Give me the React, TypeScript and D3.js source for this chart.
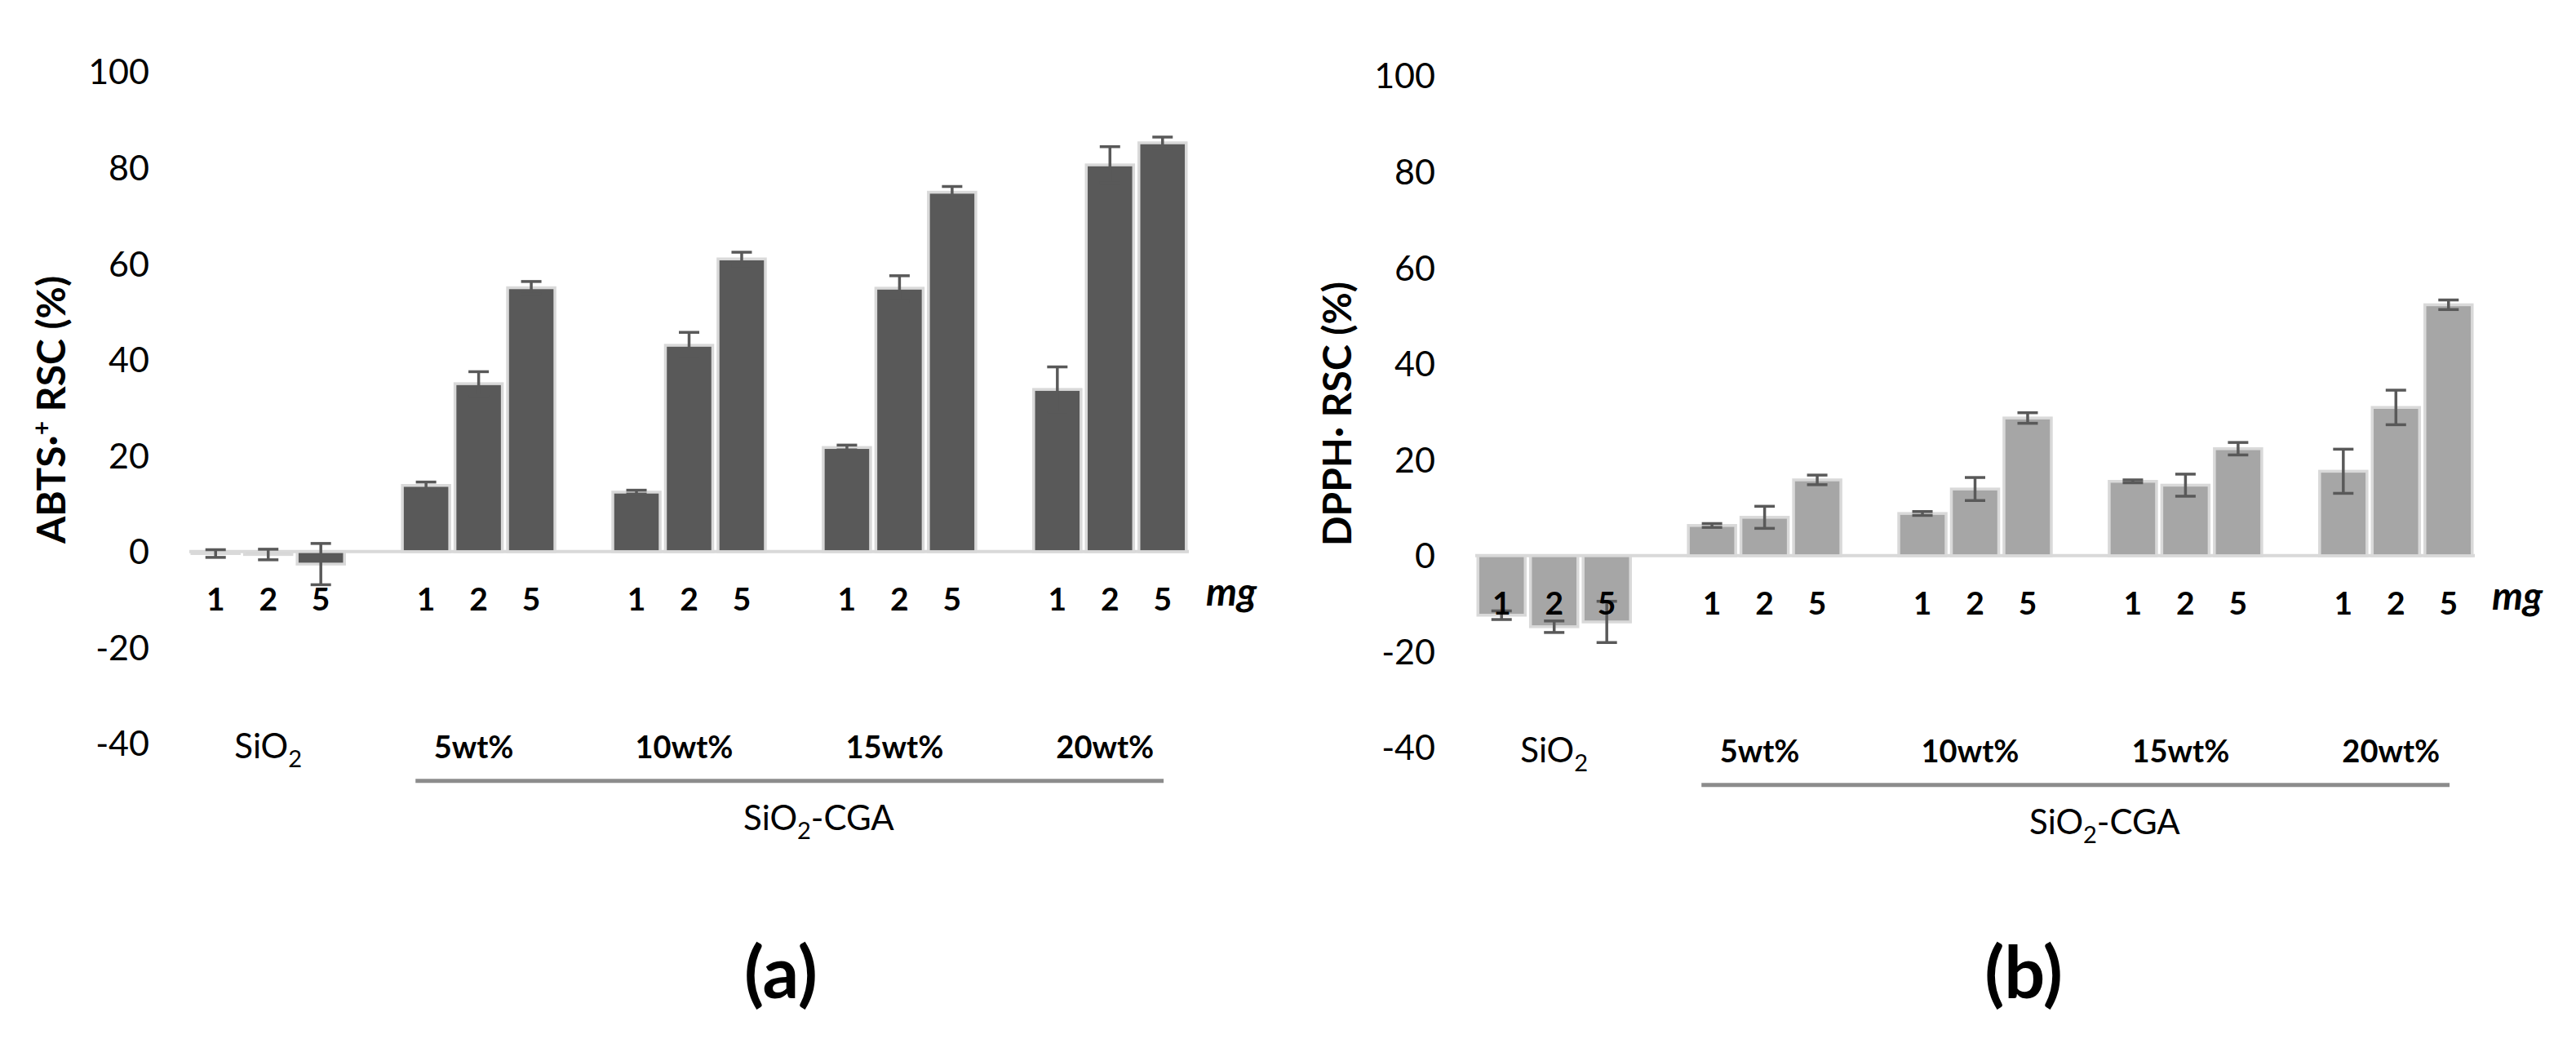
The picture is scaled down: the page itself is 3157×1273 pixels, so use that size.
import React, { useEffect, useRef } from 'react';
import * as d3 from 'd3';

const groups = ['SiO2', '5wt%', '10wt%', '15wt%', '20wt%'];
const doses = ['1', '2', '5'];
const yTicks = [-40, -20, 0, 20, 40, 60, 80, 100];

// ABTS radical scavenging, per group, per dose (mg)
const abtsMean = [
  [-0.4, -0.6, -2.6],
  [13.8, 35.0, 55.0],
  [12.4, 43.0, 61.0],
  [21.7, 54.9, 74.9],
  [33.8, 80.6, 85.2],
];
const abtsErr = [
  [0.8, 1.1, 4.3],
  [0.7, 2.5, 1.3],
  [0.4, 2.7, 1.4],
  [0.5, 2.6, 1.2],
  [4.7, 3.8, 1.2],
];

// DPPH radical scavenging
const dpphMean = [
  [-12.4, -14.8, -13.8],
  [6.3, 8.0, 15.8],
  [8.8, 13.9, 28.7],
  [15.5, 14.7, 22.3],
  [17.6, 30.9, 52.3],
];
const dpphErr = [
  [0.9, 1.2, 4.3],
  [0.4, 2.3, 1.0],
  [0.4, 2.4, 1.1],
  [0.3, 2.3, 1.3],
  [4.6, 3.6, 1.0],
];

const FONT = 'Lato, "Open Sans", sans-serif';

interface PanelOpts {
  dx: number;
  dy: number;
  means: number[][];
  errs: number[][];
  fill: string;
  title: 'abts' | 'dpph';
  letter: string;
  letterX: number;
}

function drawPanel(svg: d3.Selection<SVGSVGElement, unknown, null, undefined>, o: PanelOpts) {
  const g = svg.append('g').attr('transform', `translate(${o.dx},${o.dy})`);

  const y = d3.scaleLinear().domain([-40, 100]).range([911, 88]);
  const x0 = d3.scaleBand<string>().domain(groups).range([232, 1457]).paddingInner(0.25).paddingOuter(0);
  const x1 = d3.scaleBand<string>().domain(doses).range([0, x0.bandwidth()]).paddingInner(0.1).paddingOuter(0.05);
  const zero = y(0);

  // y tick labels (no axis line in the original)
  g.selectAll('text.ytick')
    .data(yTicks)
    .enter()
    .append('text')
    .attr('class', 'ytick')
    .attr('x', 183)
    .attr('y', d => y(d))
    .attr('dy', '0.36em')
    .attr('text-anchor', 'end')
    .attr('font-family', FONT)
    .attr('font-size', 43)
    .attr('fill', '#000')
    .text(d => d);

  // baseline at zero
  g.append('line')
    .attr('x1', 232).attr('x2', 1457)
    .attr('y1', zero).attr('y2', zero)
    .attr('stroke', '#d9d9d9')
    .attr('stroke-width', 4);

  const rows = groups.flatMap((grp, gi) =>
    doses.map((dose, di) => ({ grp, dose, v: o.means[gi][di], e: o.errs[gi][di] }))
  );
  const cx = (d: { grp: string; dose: string }) => x0(d.grp)! + x1(d.dose)! + x1.bandwidth() / 2;

  g.selectAll('rect.bar')
    .data(rows)
    .enter()
    .append('rect')
    .attr('class', 'bar')
    .attr('x', d => x0(d.grp)! + x1(d.dose)!)
    .attr('width', x1.bandwidth())
    .attr('y', d => Math.min(y(d.v), zero))
    .attr('height', d => Math.abs(y(d.v) - zero))
    .attr('fill', o.fill)
    .attr('stroke', '#d9d9d9')
    .attr('stroke-width', 3.5);

  // error bars
  const eb = g.selectAll('g.err').data(rows).enter().append('g').attr('class', 'err')
    .attr('stroke', '#595959').attr('stroke-width', 3.5);
  eb.append('line')
    .attr('x1', cx).attr('x2', cx)
    .attr('y1', d => y(d.v + d.e)).attr('y2', d => y(d.v - d.e));
  eb.append('line')
    .attr('x1', d => cx(d) - 12.5).attr('x2', d => cx(d) + 12.5)
    .attr('y1', d => y(d.v + d.e)).attr('y2', d => y(d.v + d.e));
  eb.append('line')
    .attr('x1', d => cx(d) - 12.5).attr('x2', d => cx(d) + 12.5)
    .attr('y1', d => y(d.v - d.e)).attr('y2', d => y(d.v - d.e));

  // dose labels under every bar
  g.selectAll('text.dose')
    .data(rows)
    .enter()
    .append('text')
    .attr('class', 'dose')
    .attr('x', cx)
    .attr('y', zero + 72)
    .attr('text-anchor', 'middle')
    .attr('font-family', FONT)
    .attr('font-weight', 'bold')
    .attr('font-size', 39)
    .text(d => d.dose);

  g.append('text')
    .attr('x', 1478)
    .attr('y', zero + 66)
    .attr('font-family', FONT)
    .attr('font-weight', 'bold')
    .attr('font-style', 'italic')
    .attr('font-size', 48)
    .text('mg');

  // group labels
  const gc = (grp: string) => x0(grp)! + x0.bandwidth() / 2;
  const sio2 = g.append('text')
    .attr('x', gc('SiO2'))
    .attr('y', zero + 253)
    .attr('text-anchor', 'middle')
    .attr('font-family', FONT)
    .attr('font-size', 42);
  sio2.append('tspan').text('SiO');
  sio2.append('tspan').attr('font-size', 29).attr('dy', 11).text('2');

  g.selectAll('text.wt')
    .data(groups.slice(1))
    .enter()
    .append('text')
    .attr('class', 'wt')
    .attr('x', d => gc(d) - 6)
    .attr('y', zero + 253)
    .attr('text-anchor', 'middle')
    .attr('font-family', FONT)
    .attr('font-weight', 'bold')
    .attr('font-size', 38)
    .text(d => d);

  const step = x1.step();
  g.append('line')
    .attr('x1', x0('5wt%')! + step * 0.3)
    .attr('x2', x0('20wt%')! + x0.bandwidth() - step * 0.48)
    .attr('y1', zero + 281).attr('y2', zero + 281)
    .attr('stroke', '#8c8c8c')
    .attr('stroke-width', 5);

  const cga = g.append('text')
    .attr('x', (gc('5wt%') + gc('20wt%')) / 2 + 30)
    .attr('y', zero + 341)
    .attr('text-anchor', 'middle')
    .attr('font-family', FONT)
    .attr('font-size', 42);
  cga.append('tspan').text('SiO');
  cga.append('tspan').attr('font-size', 29).attr('dy', 11).text('2');
  cga.append('tspan').attr('dy', -11).text('-CGA');

  // y title
  const t = g.append('text')
    .attr('transform', 'translate(80,502) rotate(-90)')
    .attr('text-anchor', 'middle')
    .attr('font-family', FONT)
    .attr('font-weight', 'bold')
    .attr('font-size', 48);
  if (o.title === 'abts') {
    t.append('tspan').text('ABTS·');
    t.append('tspan').attr('font-size', 30).attr('dy', -18).text('+');
    t.append('tspan').attr('dy', 18).text(' RSC (%)');
  } else {
    t.append('tspan').text('DPPH· RSC (%)');
  }

  // panel letter
  svg.append('text')
    .attr('x', o.letterX)
    .attr('y', 1223)
    .attr('text-anchor', 'middle')
    .attr('font-family', FONT)
    .attr('font-weight', 'bold')
    .attr('font-size', 88)
    .text(o.letter);
}

export default function App() {
  const svgRef = useRef<SVGSVGElement>(null);

  useEffect(() => {
    if (!svgRef.current) return;
    document.body.style.margin = '0';
    const svg = d3.select(svgRef.current);
    svg.selectAll('*').remove();

    drawPanel(svg, { dx: 0, dy: 0, means: abtsMean, errs: abtsErr, fill: '#595959', title: 'abts', letter: '(a)', letterX: 957 });
    drawPanel(svg, { dx: 1576, dy: 5, means: dpphMean, errs: dpphErr, fill: '#a6a6a6', title: 'dpph', letter: '(b)', letterX: 2480 });
  }, []);

  return (
    <svg
      ref={svgRef}
      width={3157}
      height={1273}
      style={{ position: 'absolute', left: 0, top: 0, background: '#fff' }}
    />
  );
}
